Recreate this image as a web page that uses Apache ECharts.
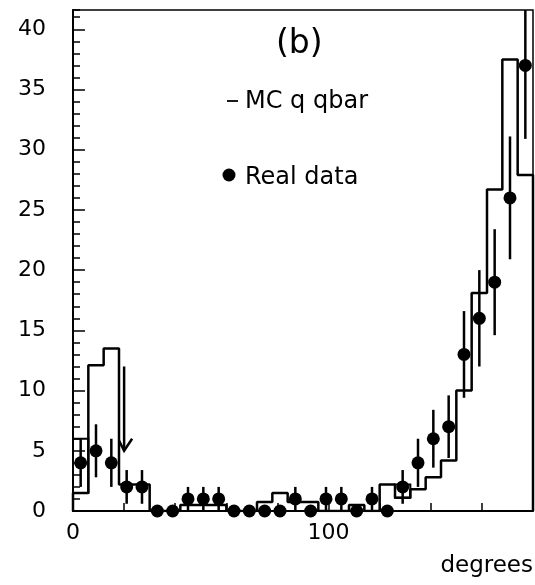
<!DOCTYPE html>
<html>
<head>
<meta charset="utf-8">
<script src="https://cdn.jsdelivr.net/npm/echarts@6/dist/echarts.min.js"></script>
<style>
  html, body { margin: 0; padding: 0; background: #ffffff; }
  #chart { width: 535px; height: 585px; }
</style>
</head>
<body>
<div id="chart"></div>
<script>
// Angular distribution, 6-degree bins from 0 to 180 degrees
const binLow = [0, 6, 12, 18, 24, 30, 36, 42, 48, 54, 60, 66, 72, 78, 84,
                90, 96, 102, 108, 114, 120, 126, 132, 138, 144, 150, 156, 162, 168, 174];
const binWidth = 6;

// Real data: entries per bin and their error bars
const realData = [4, 5, 4, 2, 2, 0, 0, 1, 1, 1, 0, 0, 0, 0, 1,
                  0, 1, 1, 0, 1, 0, 2, 4, 6, 7, 13, 16, 19, 26, 37];
const realErr  = [2, 2.2, 2, 1.4, 1.4, 0, 0, 1, 1, 1, 0, 0, 0, 0, 1,
                  0, 1, 1, 0, 1, 0, 1.4, 2, 2.4, 2.6, 3.6, 4, 4.4, 5.1, 6.1];

// MC q qbar histogram (normalised), plus upper box edges where drawn
const mcQQbar = [1.5, 12.1, 13.5, 2.2, 2.2, 0, 0, 0.5, 0.5, 0.5, 0, 0, 0.75, 1.5, 0.75,
                 0.75, 0, 0, 0.5, 0, 2.2, 1.1, 1.8, 2.8, 4.2, 10.0, 18.1, 26.7, 37.5, 27.9];
const mcUpper = [6, null, null, null, null, null, null, null, null, null, null, null, null, null, null,
                 null, null, null, null, null, null, 2.2, null, null, null, null, null, null, null, null];

// Cut marker: [angle, arrow top, arrow tip]
const cutArrow = [20, 12, 5];

// Axis labels
const xTickLabels = [0, 100];
const yTickLabels = [0, 5, 10, 15, 20, 25, 30, 35, 40];

const FONT = 'DejaVu Sans';
const X_MAX = 180;
const Y_MAX = 41.6;

// Step outline of the MC histogram
const mcStep = [[0, 0]];
binLow.forEach((lo, i) => {
  mcStep.push([lo, mcQQbar[i]]);
  mcStep.push([lo + binWidth, mcQQbar[i]]);
});
mcStep.push([X_MAX, 0]);

const centers = binLow.map(lo => lo + binWidth / 2);
const pointData = centers.map((c, i) => [c, realData[i], realErr[i]]);
const boxData = [];
mcUpper.forEach((u, i) => { if (u !== null) boxData.push([binLow[i], binLow[i] + binWidth, mcQQbar[i], u]); });

const chart = echarts.init(document.getElementById('chart'), null, { renderer: 'canvas' });

const axisText = { color: '#000', fontFamily: FONT, fontSize: 22 };

chart.setOption({
  animation: false,
  backgroundColor: '#ffffff',
  grid: {
    left: 73, right: 2, top: 10, bottom: 74,
    show: true, borderColor: '#000', borderWidth: 1.5, backgroundColor: 'transparent'
  },
  xAxis: {
    type: 'value', min: 0, max: X_MAX, interval: 20,
    axisLine: { show: true, onZero: false, lineStyle: { color: '#000', width: 2 } },
    axisTick: { show: true, inside: true, length: 8, lineStyle: { color: '#000', width: 1.5 } },
    splitLine: { show: false },
    axisLabel: Object.assign({
      margin: 11,
      showMaxLabel: false,
      formatter: v => (xTickLabels.indexOf(v) >= 0 ? String(v) : '')
    }, axisText)
  },
  yAxis: [
    {
      type: 'value', min: 0, max: Y_MAX, interval: 1,
      axisLine: { show: true, lineStyle: { color: '#000', width: 2 } },
      axisTick: { show: true, inside: true, length: 7, lineStyle: { color: '#000', width: 1.5 } },
      splitLine: { show: false },
      axisLabel: { show: false }
    },
    {
      type: 'value', min: 0, max: Y_MAX, interval: 5, position: 'left', offset: 0,
      axisLine: { show: false },
      axisTick: { show: true, inside: true, length: 12, lineStyle: { color: '#000', width: 1.5 } },
      splitLine: { show: false },
      axisLabel: Object.assign({
        margin: 27,
        showMaxLabel: false,
        formatter: v => (yTickLabels.indexOf(v) >= 0 ? String(v) : '')
      }, axisText)
    }
  ],
  series: [
    {
      // MC histogram outline
      type: 'line',
      data: mcStep,
      showSymbol: false,
      symbol: 'none',
      lineStyle: { color: '#000', width: 2.5 },
      clip: true,
      z: 2
    },
    {
      // Extra box edges on the MC histogram
      type: 'custom',
      data: boxData,
      z: 2,
      renderItem: (params, api) => {
        const a = api.coord([api.value(0), api.value(3)]);
        const b = api.coord([api.value(1), api.value(2)]);
        return {
          type: 'rect',
          shape: { x: a[0], y: a[1], width: b[0] - a[0], height: b[1] - a[1] },
          style: { fill: 'none', stroke: '#000', lineWidth: 2 }
        };
      }
    },
    {
      // Error bars on the real data
      type: 'custom',
      data: pointData,
      z: 3,
      renderItem: (params, api) => {
        const e = api.value(2);
        if (!e) return null;
        const x = api.value(0), v = api.value(1);
        const top = api.coord([x, Math.min(v + e, Y_MAX)]);
        const bot = api.coord([x, Math.max(v - e, 0)]);
        return {
          type: 'line',
          shape: { x1: top[0], y1: top[1], x2: bot[0], y2: bot[1] },
          style: { stroke: '#000', lineWidth: 2.5 }
        };
      }
    },
    {
      // Real data points
      type: 'scatter',
      data: pointData.map(p => [p[0], p[1]]),
      symbol: 'circle',
      symbolSize: 13,
      itemStyle: { color: '#000', opacity: 1 },
      clip: false,
      z: 4
    },
    {
      // Cut arrow
      type: 'custom',
      data: [cutArrow],
      z: 4,
      renderItem: (params, api) => {
        const x = api.value(0);
        const top = api.coord([x, api.value(1)]);
        const tip = api.coord([x, api.value(2)]);
        return {
          type: 'group',
          children: [
            { type: 'line', shape: { x1: top[0], y1: top[1], x2: tip[0], y2: tip[1] },
              style: { stroke: '#000', lineWidth: 2.5 } },
            { type: 'polyline', shape: { points: [[tip[0] - 5, tip[1] - 10], [tip[0], tip[1]], [tip[0] + 8, tip[1] - 12]] },
              style: { stroke: '#000', lineWidth: 2.5, fill: 'none' } }
          ]
        };
      }
    }
  ],
  graphic: [
    { type: 'text', left: 276, top: 28,
      style: { text: '(b)', fontFamily: FONT, fontSize: 33, fill: '#000' } },
    { type: 'line', shape: { x1: 227, y1: 101, x2: 238, y2: 101 },
      style: { stroke: '#000', lineWidth: 1.8 } },
    { type: 'text', left: 245, top: 90,
      style: { text: 'MC q qbar', fontFamily: FONT, fontSize: 24, fill: '#000' } },
    { type: 'circle', shape: { cx: 229, cy: 175, r: 6.5 }, style: { fill: '#000' } },
    { type: 'text', left: 245, top: 166,
      style: { text: 'Real data', fontFamily: FONT, fontSize: 24, fill: '#000' } },
    { type: 'text', right: 2, top: 555,
      style: { text: 'degrees', fontFamily: FONT, fontSize: 23, fill: '#000' } }
  ]
});
</script>
</body>
</html>
